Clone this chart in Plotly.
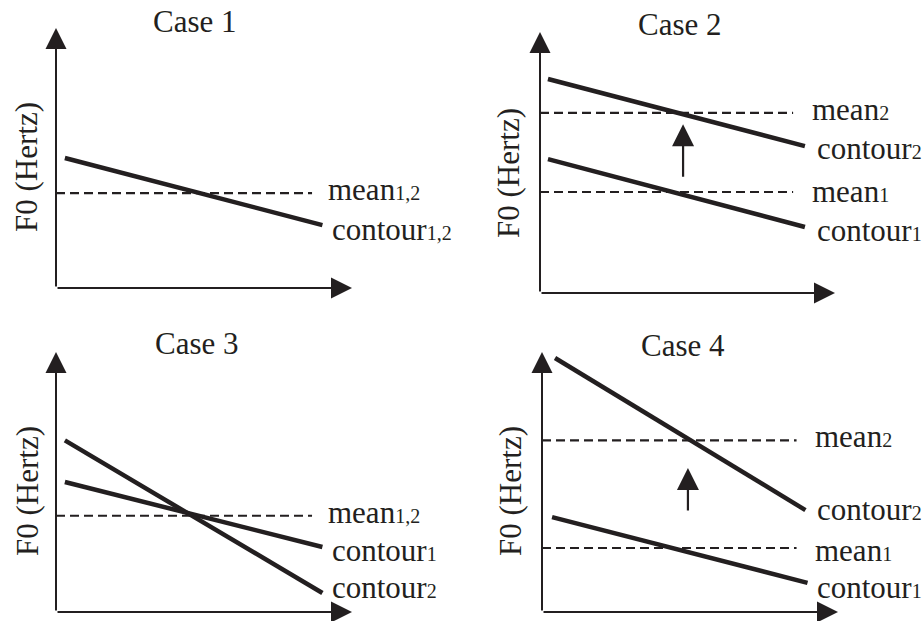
import plotly.graph_objects as go

W, H = 923, 621
INK = "#231f20"
FONT = "Liberation Serif, Times New Roman, serif"

# ---------------- data (arbitrary F0 units, time 0..10) ----------------
case_titles = ["Case 1", "Case 2", "Case 3", "Case 4"]

# Case 1
c1_contour12_x = [0.3, 9.0]
c1_contour12_y = [5.0, 2.42]
c1_mean12 = 3.65

# Case 2
c2_contour_x = [0.27, 8.98]
c2_contour1_y = [5.13, 2.53]
c2_contour2_y = [8.2, 5.63]
c2_mean1 = 3.87
c2_mean2 = 6.9
c2_shift_x = 4.85
c2_shift_y = [4.4, 6.47]

# Case 3
c3_contour_x = [0.3, 9.0]
c3_contour1_y = [5.0, 2.5]
c3_contour2_y = [6.6, 0.73]
c3_mean12 = 3.7

# Case 4
c4_contour1_x = [0.34, 8.97]
c4_contour1_y = [3.65, 1.12]
c4_contour2_x = [0.44, 8.9]
c4_contour2_y = [9.77, 3.92]
c4_mean1 = 2.46
c4_mean2 = 6.6
c4_shift_x = 4.93
c4_shift_y = [3.85, 5.54]

mean_x_end = [8.65, 8.58, 8.65, 8.6]
y_label = "F0 (Hertz)"

# ---------------- layout geometry (pixels) ----------------
# origin x, origin y, x-arrow tip, y-arrow tip
panels = [
    (56, 288, 352, 28),
    (540, 293, 835, 32),
    (56, 612, 352, 352),
    (542, 612, 838, 352),
]
title_pos = [(195, 21), (680, 25), (197, 343), (683, 345)]
ylabel_pos = [(27, 167), (508, 173), (27, 491), (510, 491)]

FS = 31
SUBFS = 20

fig = go.Figure()
layout = dict(width=W, height=H, margin=dict(l=0, r=0, t=0, b=0),
              paper_bgcolor="white", plot_bgcolor="white", showlegend=False)
annotations = []


def sub(base, idx):
    return f"{base}<span style='font-size:{SUBFS}px'>{idx}</span>"


def ax_names(i):
    s = "" if i == 0 else str(i + 1)
    return "x" + s, "y" + s, "xaxis" + s, "yaxis" + s


for i, (ox, oy, tx, ty) in enumerate(panels):
    xr, yr, xa, ya = ax_names(i)
    layout[xa] = dict(domain=[ox / W, tx / W], range=[0, 10], visible=False,
                      anchor=yr, fixedrange=True)
    layout[ya] = dict(domain=[1 - oy / H, 1 - ty / H], range=[0, 10], visible=False,
                      anchor=xr, fixedrange=True)
    # axes with arrows
    for (hx, hy) in [(0, 10), (10, 0)]:
        annotations.append(dict(x=hx, y=hy, ax=0, ay=0, xref=xr, yref=yr,
                                axref=xr, ayref=yr, text="", showarrow=True,
                                arrowhead=2, arrowsize=2.1, arrowwidth=2,
                                arrowcolor=INK, standoff=0))
    # title
    px, py = title_pos[i]
    annotations.append(dict(x=px / W, y=1 - py / H, xref="paper", yref="paper",
                            text=case_titles[i], showarrow=False,
                            xanchor="center", yanchor="middle",
                            font=dict(family=FONT, size=FS, color=INK)))
    # y label
    px, py = ylabel_pos[i]
    annotations.append(dict(x=px / W, y=1 - py / H, xref="paper", yref="paper",
                            text=y_label, showarrow=False, textangle=-90,
                            xanchor="center", yanchor="middle",
                            font=dict(family=FONT, size=FS, color=INK)))


def contour(i, xs, ys):
    xr, yr, _, _ = ax_names(i)
    fig.add_trace(go.Scatter(x=xs, y=ys, mode="lines", xaxis=xr, yaxis=yr,
                             line=dict(color=INK, width=4.5), hoverinfo="skip"))


def mean(i, val):
    xr, yr, _, _ = ax_names(i)
    fig.add_trace(go.Scatter(x=[0, mean_x_end[i]], y=[val, val], mode="lines",
                             xaxis=xr, yaxis=yr,
                             line=dict(color=INK, width=2.1, dash="9px,5px"),
                             hoverinfo="skip"))


TEXT_CORR = 3  # raise box so x-height centre sits on target


def label(i, text, x, y, dx, dy):
    xr, yr, _, _ = ax_names(i)
    annotations.append(dict(x=x, y=y, xref=xr, yref=yr, text=text, showarrow=False,
                            xanchor="left", yanchor="middle", xshift=dx,
                            yshift=-dy + TEXT_CORR,
                            font=dict(family=FONT, size=FS, color=INK)))


def shift_arrow(i, x, ys):
    xr, yr, _, _ = ax_names(i)
    annotations.append(dict(x=x, y=ys[1], ax=x, ay=ys[0], xref=xr, yref=yr,
                            axref=xr, ayref=yr, text="", showarrow=True,
                            arrowhead=2, arrowsize=2.0, arrowwidth=2.2,
                            arrowcolor=INK, standoff=0))


# Case 1
mean(0, c1_mean12)
contour(0, c1_contour12_x, c1_contour12_y)
label(0, sub("mean", "1,2"), mean_x_end[0], c1_mean12, 14, -1)
label(0, sub("contour", "1,2"), c1_contour12_x[1], c1_contour12_y[1], 8, 7)

# Case 2
mean(1, c2_mean1)
mean(1, c2_mean2)
contour(1, c2_contour_x, c2_contour1_y)
contour(1, c2_contour_x, c2_contour2_y)
shift_arrow(1, c2_shift_x, c2_shift_y)
label(1, sub("mean", "2"), mean_x_end[1], c2_mean2, 17, 0)
label(1, sub("contour", "2"), c2_contour_x[1], c2_contour2_y[1], 10, 5)
label(1, sub("mean", "1"), mean_x_end[1], c2_mean1, 17, 3)
label(1, sub("contour", "1"), c2_contour_x[1], c2_contour1_y[1], 10, 7)

# Case 3
mean(2, c3_mean12)
contour(2, c3_contour_x, c3_contour1_y)
contour(2, c3_contour_x, c3_contour2_y)
label(2, sub("mean", "1,2"), mean_x_end[2], c3_mean12, 14, 0)
label(2, sub("contour", "1"), c3_contour_x[1], c3_contour1_y[1], 8, 6)
label(2, sub("contour", "2"), c3_contour_x[1], c3_contour2_y[1], 8, -3)

# Case 4
mean(3, c4_mean1)
mean(3, c4_mean2)
contour(3, c4_contour1_x, c4_contour1_y)
contour(3, c4_contour2_x, c4_contour2_y)
shift_arrow(3, c4_shift_x, c4_shift_y)
label(3, sub("mean", "2"), mean_x_end[3], c4_mean2, 16, -1)
label(3, sub("contour", "2"), c4_contour2_x[1], c4_contour2_y[1], 10, 2)
label(3, sub("mean", "1"), mean_x_end[3], c4_mean1, 16, 5)
label(3, sub("contour", "1"), c4_contour1_x[1], c4_contour1_y[1], 7, 8)

layout["annotations"] = annotations
fig.update_layout(**layout)
fig.write_html("out.html", config={"displayModeBar": False},
               post_script="document.body.style.margin='0';document.body.style.overflow='hidden';")
